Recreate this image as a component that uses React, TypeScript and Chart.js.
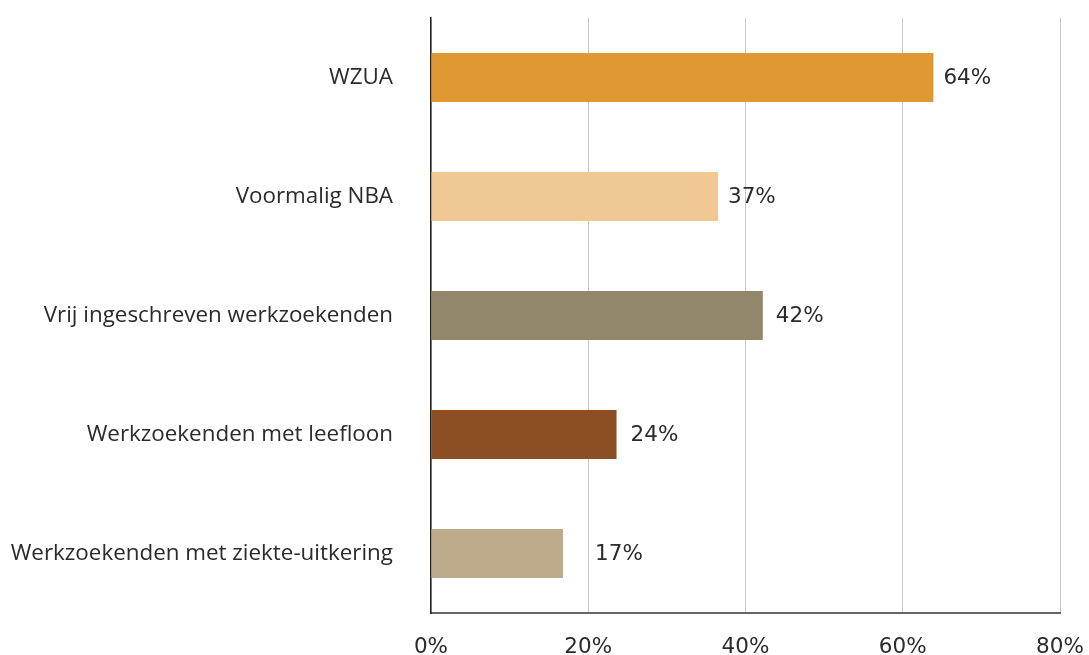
import React, { useEffect, useRef } from "react";
import { Chart, registerables } from "chart.js";

Chart.register(...registerables);

const categories = [
  "WZUA",
  "Voormalig NBA",
  "Vrij ingeschreven werkzoekenden",
  "Werkzoekenden met leefloon",
  "Werkzoekenden met ziekte-uitkering",
];
const values = [63.9, 36.5, 42.2, 23.6, 16.8];
const valueLabels = ["64%", "37%", "42%", "24%", "17%"];
const barColors = ["#E09832", "#F0C893", "#93876B", "#8B4F23", "#BEAB8B"];
const labelGap = [10, 10, 13, 14, 32];

const LABEL_FONT = "'Open Sans', sans-serif";
const NUM_FONT = "'DejaVu Sans', sans-serif";

const valueLabelPlugin = {
  id: "valueLabels",
  afterDatasetsDraw(chart: any) {
    const ctx = chart.ctx;
    const meta = chart.getDatasetMeta(0);
    ctx.save();
    ctx.font = `21.5px ${NUM_FONT}`;
    ctx.fillStyle = "#2b2b2b";
    ctx.textAlign = "left";
    ctx.textBaseline = "middle";
    meta.data.forEach((bar: any, i: number) => {
      ctx.fillText(valueLabels[i], bar.x + labelGap[i], bar.y + 1);
    });
    ctx.restore();
  },
};

export default function App() {
  const ref = useRef<HTMLCanvasElement>(null);
  useEffect(() => {
    document.body.style.margin = "0";
    const chart = new Chart(ref.current!, {
      type: "bar",
      data: {
        labels: categories,
        datasets: [
          {
            data: values,
            backgroundColor: barColors,
            barPercentage: 0.41,
            categoryPercentage: 1,
          },
        ],
      },
      plugins: [valueLabelPlugin],
      options: {
        indexAxis: "y",
        animation: false,
        responsive: false,
        maintainAspectRatio: false,
        layout: { padding: { top: 18, right: 29, left: 0, bottom: 0 } },
        plugins: { legend: { display: false }, tooltip: { enabled: false } },
        scales: {
          x: {
            min: 0,
            max: 80,
            ticks: {
              stepSize: 20,
              callback: (v: any) => v + "%",
              font: { family: NUM_FONT, size: 21.5 },
              color: "#2b2b2b",
              padding: 22,
              maxRotation: 0,
            },
            grid: { color: "#c8c8c8", lineWidth: 1, drawTicks: false },
            border: { display: true, color: "#666666", width: 2 },
            afterFit: (s: any) => {
              s.height = 42;
              s.paddingLeft = 0;
              s.paddingRight = 0;
            },
          },
          y: {
            ticks: {
              font: { family: LABEL_FONT, size: 22.4 },
              color: "#2b2b2b",
              padding: 38,
            },
            grid: { display: false, drawTicks: false },
            border: { display: true, color: "#222222", width: 1.5 },
            afterFit: (s: any) => {
              s.width = 431;
              s.paddingTop = 0;
              s.paddingBottom = 0;
            },
          },
        },
      },
    });
    return () => chart.destroy();
  }, []);
  return (
    <div style={{ width: 1089, height: 655 }}>
      <canvas ref={ref} width={1089} height={655} />
    </div>
  );
}
